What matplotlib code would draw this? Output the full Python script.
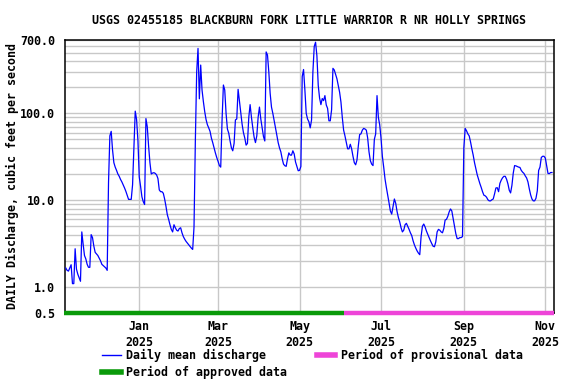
import matplotlib
matplotlib.use("Agg")
import matplotlib.pyplot as plt
from matplotlib.lines import Line2D
from matplotlib.ticker import FixedLocator, NullFormatter
import pandas as pd

# ---------------- data (daily mean discharge, cfs) ----------------
start_date = "2024-11-07"
approved_end = "2025-06-03"
axis_start = "2024-11-06 10:00"
axis_end = "2025-11-07 12:00"

flow_part1 = [1.65, 1.55, 1.52, 1.65, 1.8, 1.09, 1.09, 2.75, 1.6, 1.4, 1.27, 1.16,
              4.3, 3.1, 2.3, 2.1, 1.82, 1.68, 1.68, 4.0, 3.7, 2.95, 2.5, 2.4, 2.3,
              2.15, 2.0, 1.82, 1.76, 1.7, 1.65, 1.55]
flow_part2 = [16, 55, 62, 38, 27, 24, 22, 20, 18.8, 17.3, 16.2, 15, 13.8, 12.6, 11.3,
              10.2, 10.2, 10.2, 15, 40, 106, 85, 49, 18.5, 14.4, 10.9, 9.6, 8.9, 87,
              70, 42, 27, 20, 20.5, 20.7, 20.3, 19.5, 17.7, 13.1, 12.5, 12.5, 12,
              10.3, 8.5, 6.8, 6.0, 5.2, 4.6, 4.3, 5.2, 4.8, 4.5, 4.4, 4.7, 4.8, 4.2,
              3.8, 3.55, 3.35, 3.2, 3.05, 2.93, 2.8, 2.7]
flow_part3 = [4.9, 48, 300, 560, 147, 360, 186, 137, 105, 85, 74, 68, 62, 52, 46, 40,
              35, 31, 28, 25, 24, 84, 212, 186, 100, 66, 59, 48, 40, 37, 45, 84, 86,
              189, 140, 102, 75, 60, 52, 43, 45, 90, 126, 90, 68, 53, 46, 55, 90, 118,
              86, 68, 54, 48, 510, 470, 300, 170, 118, 100, 82, 67, 56, 46, 40, 36,
              30, 26, 24.9, 24.5, 30, 35, 33, 33, 37, 34, 27.5, 24.4, 21.8, 22, 24.4]
flow_part4 = [265, 320, 186, 100, 86, 80, 68, 84, 300, 590, 660, 460, 210, 150, 126,
              148, 140, 160, 125, 114, 82, 82, 110, 330, 316, 280, 250, 210, 175, 135,
              90, 64, 55, 46, 39, 39, 44, 39, 32, 27, 25.5, 29, 42, 57, 58, 64, 67,
              66, 64, 52, 36, 28.5, 26, 25, 50, 58, 160, 90, 74, 52, 32, 24, 17.5, 14,
              11.5, 9.3, 7.5, 6.9, 8.5, 10.3, 9.2, 7.4, 6.3, 5.6, 4.8, 4.3, 4.5, 5.2,
              5.4, 5.0, 4.6, 4.2, 3.9, 3.4, 3.05, 2.8, 2.6, 2.45, 2.35]
flow_part5 = [3.8, 5.0, 5.3, 4.9, 4.4, 4.05, 3.7, 3.4, 3.15, 2.94, 2.9, 3.3, 4.3, 4.6,
              4.5, 4.3, 4.2, 4.7, 5.9, 6.0, 6.5, 7.3, 7.9, 7.5, 6.1, 5.0, 4.1, 3.6, 3.6,
              3.7, 3.7, 3.8, 40, 67, 63, 58, 55, 47, 39, 33, 27, 23, 19.6, 17.4, 15.5,
              14, 12.5, 11.4, 11.2, 10.8, 10.1, 9.8, 9.8, 10.1, 10.3, 11.8, 13.8, 13.9,
              12.5, 15.6, 17, 18.1, 18.8, 18.8, 17.4, 15.4, 13, 12.1, 14.8, 20.5, 25,
              24.8, 24.4, 24, 23.8, 22, 21, 20.3, 19, 18, 16.2, 13.5, 11.5, 10.3, 9.8,
              9.8, 10.5, 12.8, 22, 24, 31, 32, 32, 30.5, 25, 20.3, 20.2, 20.8, 20.8]

discharge = flow_part1 + flow_part2 + flow_part3 + flow_part4 + flow_part5
dates = pd.date_range(start_date, periods=len(discharge), freq="D")

y_ticks = [0.5, 1.0, 10.0, 100.0, 700.0]
y_minor = [2, 3, 4, 5, 6, 7, 8, 9, 20, 30, 40, 50, 60, 70, 80, 90,
           200, 300, 400, 500, 600]
x_ticks = ["2025-01-01", "2025-03-01", "2025-05-01", "2025-07-01",
           "2025-09-01", "2025-11-01"]

title = "USGS 02455185 BLACKBURN FORK LITTLE WARRIOR R NR HOLLY SPRINGS"
ylabel = "DAILY Discharge, cubic feet per second"

# ---------------- styling ----------------
plt.rcParams["font.family"] = ["DejaVu Sans Mono"]
plt.rcParams["font.weight"] = "bold"
FS = 8.4
BLUE = "#0000ff"
GREEN = "#0a9a0a"
PINK = "#ee44d8"
GRID = "#c8c8c8"

fig = plt.figure(figsize=(5.76, 3.84), dpi=100)
ax = fig.add_axes([65 / 576, 1 - 313 / 384, (554 - 65) / 576, (313 - 40) / 384])

ax.set_yscale("log")
ax.set_ylim(0.5, 700)
xmin = pd.Timestamp(axis_start)
xmax = pd.Timestamp(axis_end)
ax.set_xlim(xmin, xmax)

ax.plot(dates, discharge, color=BLUE, lw=0.9, zorder=3)

# approval status bars along bottom
ax.plot([xmin - pd.Timedelta(days=0.8), pd.Timestamp(approved_end)], [0.5, 0.5],
        color=GREEN, lw=3.2, solid_capstyle="butt", clip_on=False, zorder=5)
ax.plot([pd.Timestamp(approved_end), xmax], [0.5, 0.5],
        color=PINK, lw=3.2, solid_capstyle="butt", clip_on=False, zorder=5)

# y axis
ax.yaxis.set_major_locator(FixedLocator(y_ticks))
ax.set_yticklabels([f"{v:.1f}" for v in y_ticks], fontsize=FS, fontweight="bold")
ax.yaxis.set_minor_locator(FixedLocator(y_minor))
ax.yaxis.set_minor_formatter(NullFormatter())
ax.tick_params(axis="y", which="both", length=0, pad=7)

# x axis
xt = [pd.Timestamp(d) for d in x_ticks]
ax.set_xticks(xt)
ax.set_xticklabels([f"{t.strftime('%b')}\n{t.year}" for t in xt],
                   fontsize=FS, fontweight="bold", linespacing=1.3)
ax.xaxis.set_minor_locator(FixedLocator([]))
ax.tick_params(axis="x", which="both", length=0, pad=5)

ax.grid(True, which="major", axis="both", color=GRID, lw=1.0, zorder=0)
ax.grid(True, which="minor", axis="y", color=GRID, lw=1.0, zorder=0)
ax.set_axisbelow(True)

for s in ax.spines.values():
    s.set_linewidth(1.1)
    s.set_color("black")

fig.text(309 / 576, 1 - 20 / 384, title, ha="center", va="center",
         fontsize=FS, fontweight="bold")
fig.text(12 / 576, 1 - 176 / 384, ylabel, rotation=90, ha="center", va="center",
         fontsize=FS, fontweight="bold")

handles = [Line2D([], [], color=BLUE, lw=1.0),
           Line2D([], [], color=GREEN, lw=4),
           Line2D([], [], color=PINK, lw=4)]
labels = ["Daily mean discharge", "Period of approved data",
          "Period of provisional data"]
fig.legend(handles, labels, ncol=2, loc="upper left",
           bbox_to_anchor=(102 / 576, 1 - 349 / 384), frameon=False,
           fontsize=FS, handlelength=1.6, handletextpad=0.45,
           columnspacing=2.55, labelspacing=0.3, borderpad=0, borderaxespad=0)

fig.savefig("out.png", dpi=100)
